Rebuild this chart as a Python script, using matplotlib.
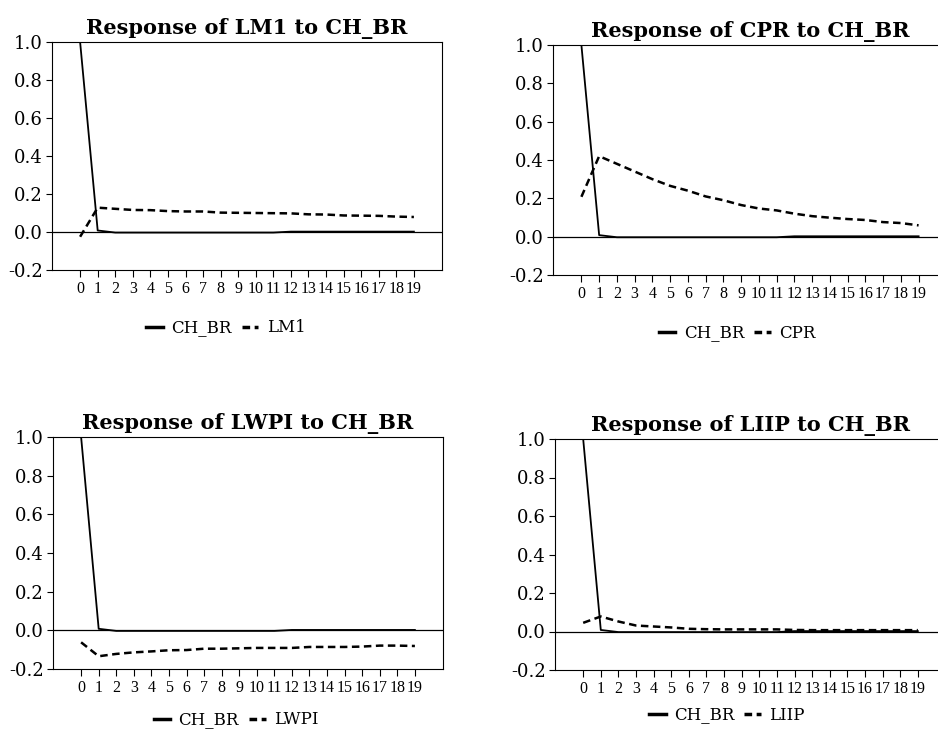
import numpy as np
import matplotlib
matplotlib.use("Agg")
import matplotlib.pyplot as plt
from matplotlib.lines import Line2D

# impulse responses, periods 0..19
PERIODS = list(range(20))

CH_BR = [1.0, 0.008, -0.003, -0.003, -0.003, -0.003, -0.003, -0.003, -0.003, -0.003,
         -0.003, -0.003, 0.002, 0.002, 0.002, 0.002, 0.002, 0.002, 0.002, 0.002]

LM1 = [-0.025, 0.128, 0.122, 0.116, 0.115, 0.110, 0.108, 0.108, 0.102, 0.101,
       0.100, 0.099, 0.098, 0.093, 0.092, 0.087, 0.086, 0.085, 0.081, 0.079]

CPR = [0.208, 0.420, 0.380, 0.340, 0.300, 0.265, 0.240, 0.210, 0.190, 0.165,
       0.147, 0.137, 0.120, 0.107, 0.099, 0.092, 0.087, 0.076, 0.071, 0.059]

LWPI = [-0.062, -0.134, -0.122, -0.114, -0.109, -0.103, -0.102, -0.095, -0.095, -0.093,
        -0.091, -0.091, -0.091, -0.086, -0.086, -0.086, -0.084, -0.079, -0.079, -0.081]

LIIP = [0.045, 0.078, 0.052, 0.031, 0.026, 0.021, 0.014, 0.012, 0.011, 0.011,
        0.011, 0.011, 0.008, 0.007, 0.007, 0.007, 0.007, 0.007, 0.007, 0.007]

# (name, series, axes box in px: left, top, width, height, legend centre px)
PANELS = [
    ("LM1", LM1, (52, 42, 390, 228), (226, 328)),
    ("CPR", CPR, (553, 45, 394, 230), (737, 333)),
    ("LWPI", LWPI, (53, 437, 390, 232), (236, 720)),
    ("LIIP", LIIP, (555, 439, 391, 231), (727, 715)),
]

W, H = 938, 731
SERIF = ["DejaVu Serif"]
DASH = (0, (3, 1.8))


def draw_panel(fig, name, resp, box, leg_xy):
    left, top, width, height = box
    ax = fig.add_axes([left / W, 1 - (top + height) / H, width / W, height / H])
    ax.axhline(0, color="black", lw=0.9, zorder=1)
    ax.plot(PERIODS, CH_BR, color="black", lw=1.3, zorder=3)
    ax.plot(PERIODS, resp, color="black", lw=1.8, linestyle=DASH, zorder=2)

    ax.set_xlim(-1.6, 20.6)
    ax.set_ylim(-0.2, 1.0)
    ax.set_xticks(PERIODS)
    ax.set_xticklabels([str(p) for p in PERIODS], family="Liberation Serif", fontsize=11.5)
    yt = np.arange(-0.2, 1.01, 0.2)
    ax.set_yticks(yt)
    ax.set_yticklabels([f"{v:.1f}" for v in yt], family=SERIF, fontsize=13)
    ax.tick_params(axis="x", direction="out", length=5, width=0.8, pad=3)
    ax.tick_params(axis="y", direction="out", length=4.5, width=0.8, pad=2)
    for sp in ax.spines.values():
        sp.set_linewidth(0.8)

    ax.set_title(f"Response of {name} to CH_BR", family=SERIF, fontweight="heavy",
                 fontsize=15, pad=6)

    handles = [Line2D([], [], color="black", lw=2.5),
               Line2D([], [], color="black", lw=2.5, linestyle=(0, (2.2, 1.3)))]
    fig.legend(handles, ["CH_BR", name], loc="center", ncol=2,
               bbox_to_anchor=(leg_xy[0] / W, 1 - leg_xy[1] / H),
               frameon=False, prop={"family": SERIF, "size": 12},
               handlelength=1.0, handletextpad=0.5, columnspacing=0.6)


def main():
    fig = plt.figure(figsize=(W / 100, H / 100), dpi=100)
    for name, resp, box, leg_xy in PANELS:
        draw_panel(fig, name, resp, box, leg_xy)
    fig.savefig("out.png", dpi=100, facecolor="white")
    plt.close(fig)


if __name__ == "__main__":
    main()
